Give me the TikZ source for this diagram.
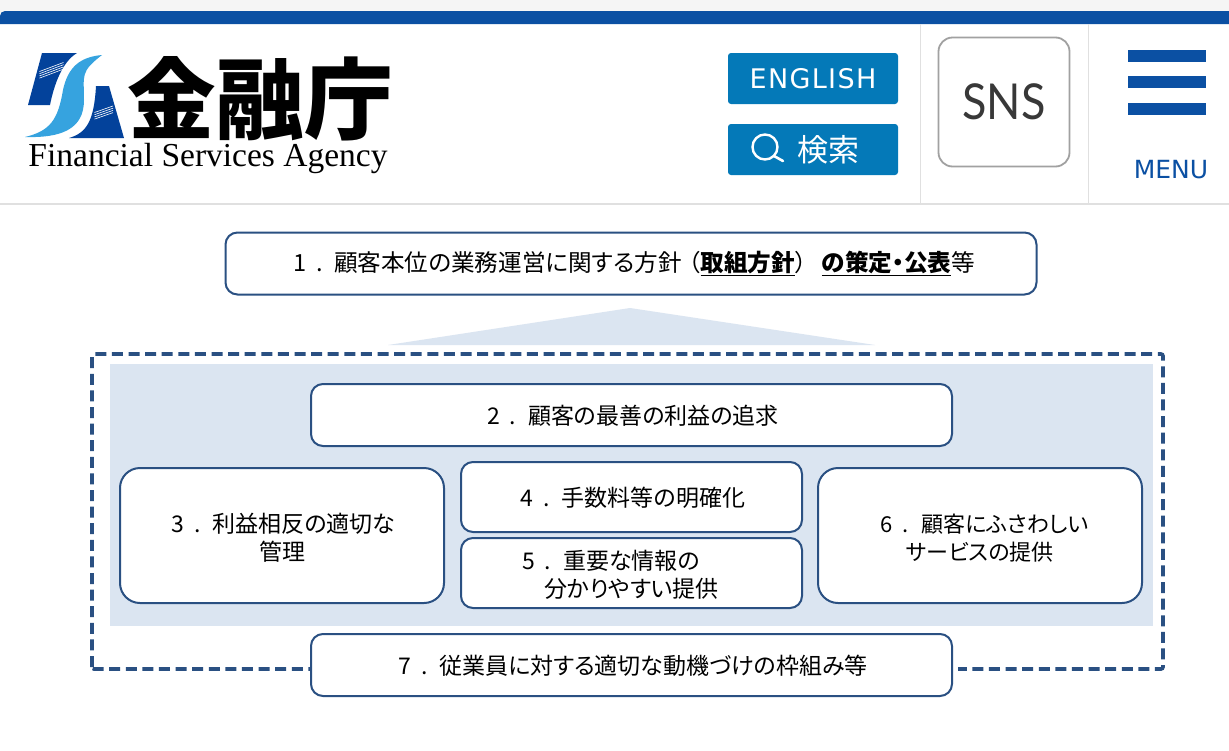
\documentclass[tikz,border=0pt]{standalone}
\usepackage{fontspec}
\usepackage{graphicx}
\setmainfont{Noto Sans CJK JP}[RawFeature={+palt}]
\newfontfamily\logofont{Noto Sans CJK JP}
\newfontfamily\serifname{Liberation Serif}
\newfontfamily\navfont{DejaVu Sans}
\newfontfamily\snsfont{Lato}
\definecolor{barblue}{HTML}{0B50A3}
\definecolor{btnblue}{HTML}{0479B8}
\definecolor{logoblue}{HTML}{03429B}
\definecolor{logosky}{HTML}{36A3DF}
\definecolor{linegray}{HTML}{E0E0E0}
\definecolor{boxblue}{HTML}{2A5082}
\definecolor{paleblue}{HTML}{DBE5F1}
\newcommand{\txt}[2]{\fontsize{#1}{#2}\selectfont}
\newcommand{\numlab}[2][21pt]{\rule{0pt}{#1}\makebox[44pt][l]{\hspace{3pt}#2\hspace{10pt}.}}
\tikzset{
  panelbox/.style={draw=boxblue, line width=2pt, fill=white, rounded corners=12pt,
    align=center, inner sep=0pt, font=\txt{23}{28}},
  btnbox/.style={fill=btnblue, rounded corners=3pt, text=white},
  burger/.style={fill=barblue},
}
\begin{document}
\begin{tikzpicture}[x=1pt,y=-1pt]
  \useasboundingbox (0,0) rectangle (1229,750);
  \fill[white] (0,0) rectangle (1229,750);
  % page header
  \fill[black!4] (0,0) rectangle (1229,24);
  \fill[barblue] (0,24) -- (0,16) arc (180:270:5) -- (1229,11) -- (1229,24) -- cycle;
  \fill[linegray] (0,203) rectangle (1229,205);
  \fill[linegray] (919.5,24) rectangle (921,204);
  \fill[linegray] (1087.5,24) rectangle (1089,204);
  % logo
  \fill[logoblue] (42,53) -- (77,53) .. controls (62,62) and (54,85) .. (50,105) -- (28,105) -- cycle;
  \fill[logoblue] (96,86) -- (109,86) -- (124,138) -- (69,138) .. controls (86,133) and (94,122) .. (96,86) -- cycle;
  \foreach \i in {0,1,2,3} {
    \draw[white, line width=0.6pt] (39.5,{71.5+\i*2.2}) -- (63.5,{62.5+\i*2.2});
    \draw[white, line width=0.6pt] (94.5,{112.5+\i*2.2}) -- (113,{106+\i*2.2});
  }
  \fill[logosky, preaction={draw=white, line width=4pt}] (102,55) .. controls (80,57) and (68,67) .. (63,90)
    .. controls (58,120) and (50,131) .. (25,137)
    .. controls (60,138) and (84,130) .. (84,100)
    .. controls (84,75) and (80,72) .. (102,55) -- cycle;
  \node[anchor=center, inner sep=0pt] (logokanji) at (260,99)
    {\logofont\txt{88.5}{88}\bfseries 金融庁};
  \node[anchor=center, inner sep=0pt] (logoname) at (208,158)
    {\serifname\txt{33.5}{33}Financial Services Agency};
  % header buttons
  \fill[btnbox] (728,53) rectangle (898,104);
  \fill[btnbox] (728,124) rectangle (898,175);
  \node[text=white, inner sep=0pt] (english) at (813,79)
    {\navfont\addfontfeature{LetterSpace=5}\txt{27}{27}ENGLISH};
  \node[text=white, inner sep=0pt] (kensaku) at (828,150)
    {\logofont\txt{31}{31}検索};
  \draw[white, line width=2.4pt] (765,147) circle (12.5);
  \draw[white, line width=2.6pt, line cap=round] (774,156) -- (783,161);
  \node[draw=black!37, line width=1.8pt, rounded corners=14pt, minimum width=131pt,
    minimum height=129pt, inner sep=0pt] (snsbox) at (1004,102)
    {\snsfont\txt{45}{45}\color{black!78}\scalebox{1}[1.1]{SNS}};
  \fill[burger] (1128,50) rectangle (1206,61.5);
  \fill[burger] (1128,76) rectangle (1206,88);
  \fill[burger] (1128,102.5) rectangle (1206,115);
  \node[text=barblue, inner sep=0pt] (menu) at (1171,170)
    {\navfont\txt{25}{25}MENU};
  % diagram
  \node[panelbox, minimum width=811pt, minimum height=62pt, font=\txt{23.6}{28}] (policy) at (631,263.5)
    {\hspace*{3pt}\numlab{1}顧客本位の業務運営に関する方針\hspace{7pt}（\underline{\textbf{取組方針}}）\hspace{15pt}\underline{\textbf{の策定・公表}}等};
  \fill[paleblue] (388,345) -- (630,308) -- (875,345) -- cycle;
  \draw[boxblue, line width=3.6pt, dash pattern=on 11pt off 5.6pt, rounded corners=2pt]
    (92,669) rectangle (1163,354);
  \fill[paleblue] (110,364) rectangle (1153,626);
  \node[panelbox, minimum width=641pt, minimum height=62pt] (interest) at (631.5,415)
    {\numlab{2}顧客の最善の利益の追求};
  \node[panelbox, minimum width=324pt, minimum height=135pt, rounded corners=20pt] (conflict) at (282,535.5)
    {\numlab[23pt]{3}利益相反の適切な\\管理};
  \node[panelbox, minimum width=341pt, minimum height=70pt] (fees) at (631.5,497)
    {\numlab{4}手数料等の明確化};
  \node[panelbox, minimum width=341pt, minimum height=70pt] (info) at (631.5,573)
    {\numlab[23pt]{5}重要な情報の\hspace*{44pt}\\分かりやすい提供};
  \node[panelbox, minimum width=324pt, minimum height=135pt, rounded corners=20pt, font=\txt{22}{28}] (service) at (980,535.5)
    {\hspace*{6pt}\numlab[23pt]{6}顧客にふさわしい\\サービスの提供};
  \fill[white] (952,660) rectangle (958,680);
  \node[panelbox, minimum width=641pt, minimum height=62pt] (staff) at (631.5,665)
    {\numlab{7}従業員に対する適切な動機づけの枠組み等};
\end{tikzpicture}
\end{document}
